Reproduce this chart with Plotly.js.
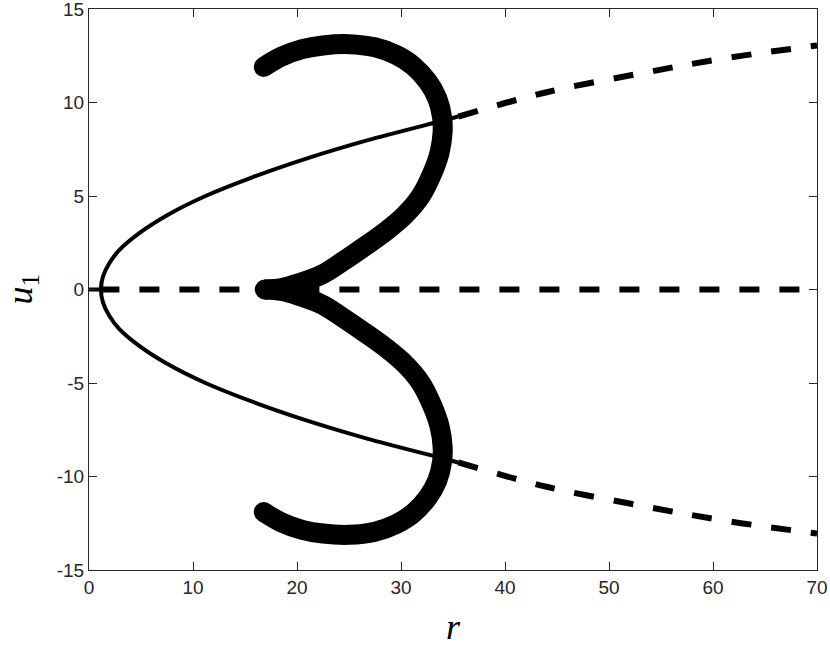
<!DOCTYPE html>
<html>
<head>
<meta charset="utf-8">
<script src="https://cdn.plot.ly/plotly-3.0.1.min.js"></script>
<style>
  html, body { margin: 0; padding: 0; background: #fff; }
  #plot { width: 830px; height: 649px; }
</style>
</head>
<body>
<div id="plot"></div>
<script>
// stable origin r < 1, then unstable origin (dashed)
var rOriginStable = [0, 1];
var uOriginStable = [0, 0];
var rOriginUnstable = [1, 70];
var uOriginUnstable = [0, 0];

// pitchfork branches, solid part (stable) through the vertex
var rBranch = [35.5, 33.8, 26.9, 20.9, 15.7, 11.2, 7.6, 4.8, 2.9, 1.95, 1.35, 1.15, 1.35, 1.95, 2.9, 4.8, 7.6, 11.2, 15.7, 20.9, 26.9, 33.8, 35.5];
var uBranch = [-9.25, -9.0, -8.0, -7.0, -6.0, -5.0, -4.0, -3.0, -2.1, -1.4, -0.7, 0, 0.7, 1.4, 2.1, 3.0, 4.0, 5.0, 6.0, 7.0, 8.0, 9.0, 9.25];

// pitchfork branches, dashed part (unstable)
var rBranchUp = [35.5, 44, 53, 61, 70];
var uBranchUp = [9.25, 10.55, 11.55, 12.35, 13.05];
var rBranchDown = [35.5, 44, 53, 61, 70];
var uBranchDown = [-9.25, -10.55, -11.55, -12.35, -13.05];

// thick curve, upper half
var rLoopUp = [16.8, 18.5, 20.5, 22.5, 25, 27.5, 29.5, 31.2, 32.6, 33.5, 33.95, 34.0, 33.7, 33.0, 31.9, 30.4, 28.5, 26.5, 24.4, 22.4, 20.0, 18.5, 16.9];
var uLoopUp = [11.9, 12.45, 12.85, 13.05, 13.12, 12.95, 12.55, 11.95, 11.1, 10.2, 9.2, 8.4, 7.3, 6.2, 5.0, 4.0, 3.1, 2.3, 1.5, 0.8, 0.3, 0.08, 0];

// thick curve, lower half
var rLoopDown = [16.8, 18.5, 20.5, 22.5, 25, 27.5, 29.5, 31.2, 32.6, 33.5, 33.95, 34.0, 33.7, 33.0, 31.9, 30.4, 28.5, 26.5, 24.4, 22.4, 20.0, 18.5, 16.9];
var uLoopDown = [-11.9, -12.45, -12.85, -13.05, -13.12, -12.95, -12.55, -11.95, -11.1, -10.2, -9.2, -8.4, -7.3, -6.2, -5.0, -4.0, -3.1, -2.3, -1.5, -0.8, -0.3, -0.08, 0];

// ends of the thick curve
var rEnds = [16.8, 16.9, 16.8];
var uEnds = [11.9, 0, -11.9];

// tick labels (plain hyphen like the original)
var xTicks = [0, 10, 20, 30, 40, 50, 60, 70];
var xTickText = ["0", "10", "20", "30", "40", "50", "60", "70"];
var yTicks = [-15, -10, -5, 0, 5, 10, 15];
var yTickText = ["-15", "-10", "-5", "0", "5", "10", "15"];

var black = "#000000";

var traces = [
  {x: rOriginStable, y: uOriginStable, mode: "lines", line: {color: black, width: 4}},
  {x: rOriginUnstable, y: uOriginUnstable, mode: "lines", line: {color: black, width: 6, dash: "20px,20px"}},
  {x: rBranch, y: uBranch, mode: "lines", line: {color: black, width: 4, shape: "spline", smoothing: 0.6}},
  {x: rBranchUp, y: uBranchUp, mode: "lines", line: {color: black, width: 6, dash: "20px,20px", shape: "spline"}},
  {x: rBranchDown, y: uBranchDown, mode: "lines", line: {color: black, width: 6, dash: "20px,20px", shape: "spline"}},
  {x: rLoopUp, y: uLoopUp, mode: "lines", line: {color: black, width: 20, shape: "spline"}},
  {x: rLoopDown, y: uLoopDown, mode: "lines", line: {color: black, width: 20, shape: "spline"}},
  {x: rEnds, y: uEnds, mode: "markers", marker: {color: black, size: 20}}
];

var axisStyle = {
  showgrid: false,
  zeroline: false,
  showline: true,
  mirror: "ticks",
  linecolor: "#262626",
  linewidth: 1,
  ticks: "inside",
  ticklen: 8,
  tickwidth: 1,
  tickcolor: "#262626",
  tickmode: "array",
  ticklabeloverflow: "allow",
  tickfont: {family: "Liberation Sans, Arial, sans-serif", size: 19, color: "#262626"}
};

var titleFont = {family: "Liberation Serif, DejaVu Serif, serif", size: 36, color: "#000"};

var layout = {
  width: 830,
  height: 649,
  margin: {l: 89, r: 13, t: 9, b: 79},
  paper_bgcolor: "#ffffff",
  plot_bgcolor: "#ffffff",
  showlegend: false,
  xaxis: Object.assign({}, axisStyle, {
    range: [0, 70],
    tickvals: xTicks,
    ticktext: xTickText
  }),
  yaxis: Object.assign({}, axisStyle, {
    range: [-15, 15],
    tickvals: yTicks,
    ticktext: yTickText
  }),
  // axis titles as annotations so they sit where the original has them
  annotations: [
    {text: "<i>r</i>", xref: "paper", yref: "paper", x: 0.5, y: 0, yshift: -57,
     xanchor: "center", yanchor: "middle", showarrow: false, font: titleFont},
    {text: "<i>u</i><sub>1</sub>", xref: "paper", yref: "paper", x: 0, y: 0.5, xshift: -67,
     xanchor: "center", yanchor: "middle", textangle: -90, showarrow: false, font: titleFont}
  ]
};

Plotly.newPlot("plot", traces, layout, {staticPlot: true, displayModeBar: false});
</script>
</body>
</html>
